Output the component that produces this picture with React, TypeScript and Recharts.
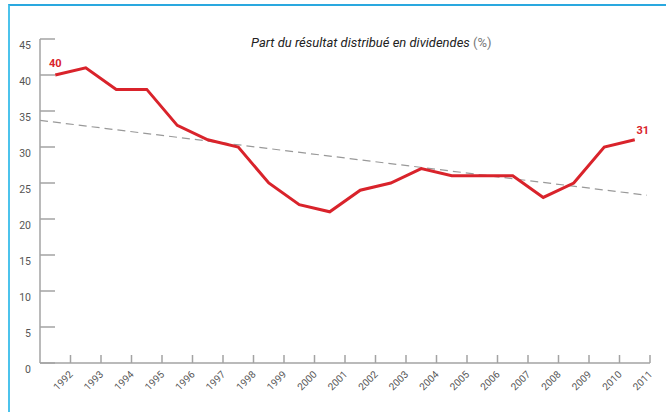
import { LineChart, Line, XAxis, YAxis } from 'recharts'

const years = ['1992', '1993', '1994', '1995', '1996', '1997', '1998', '1999', '2000', '2001', '2002', '2003', '2004', '2005', '2006', '2007', '2008', '2009', '2010', '2011']
const payout = [40, 41, 38, 38, 33, 31, 30, 25, 22, 21, 24, 25, 27, 26, 26, 26, 23, 25, 30, 31]
const trendX = [-0.5, 19.4]
const trendY = [33.7, 23.3]
const yTicks = [0, 5, 10, 15, 20, 25, 30, 35, 40, 45]

const data = payout.map((v, i) => ({ i, v }))
const trend = trendX.map((x, k) => ({ i: x, t: trendY[k] }))
// ticks sit on the boundaries between years
const xTicks = years.map((_, i) => i + 0.5)

const RED = '#d9232b'
const GREY = '#a3a3a3'
const FONT = 'Roboto, "Liberation Sans", sans-serif'

function XTick(props: any) {
  const { x, y, payload } = props
  const label = years[Math.round(payload.value - 0.5)]
  return (
    <g>
      <line x1={x} y1={y - 8} x2={x} y2={y} stroke={GREY} strokeWidth={1.5} />
      <text x={x + 3} y={y + 12} textAnchor="end" fontSize={10} fill="#555" fontFamily={FONT}
            transform={`rotate(-45 ${x + 3} ${y + 12})`}>
        {label}
      </text>
    </g>
  )
}

function YTick(props: any) {
  const { x, y, payload } = props
  return (
    <g>
      <line x1={x} y1={y} x2={x + 15} y2={y} stroke={GREY} strokeWidth={1.5} />
      <text x={x - 9} y={y + 10} textAnchor="end" fontSize={10.5} fill="#555" fontFamily={FONT}>
        {payload.value}
      </text>
    </g>
  )
}

function EndLabel(props: any) {
  const { x, y, index, value } = props
  if (index === 0) {
    return <text x={x} y={y - 8} textAnchor="middle" fontSize={11} fontWeight="bold" fill={RED} fontFamily={FONT}>{value}</text>
  }
  if (index === payout.length - 1) {
    return <text x={x + 8} y={y - 6} textAnchor="middle" fontSize={11} fontWeight="bold" fill={RED} fontFamily={FONT}>{value}</text>
  }
  return null
}

export default function App() {
  return (
    <div style={{ position: 'absolute', left: 0, top: 0, width: 666, height: 412, background: '#fff', overflow: 'hidden' }}>
      <div style={{ position: 'absolute', left: 8, top: 4, width: 660, height: 420,
                    borderTop: '2px solid #2aa8df', borderLeft: '2px solid #4cc3ec' }} />
      <div style={{ position: 'absolute', left: 251, top: 35, fontFamily: FONT, fontSize: 13, color: '#222', whiteSpace: 'nowrap' }}>
        <i>Part du résultat distribué en dividendes</i> <span style={{ color: '#777' }}>(%)</span>
      </div>
      <div style={{ position: 'absolute', left: 0, top: 0 }}>
        <LineChart width={666} height={412} data={data} margin={{ top: 39, right: 16, bottom: 0, left: 0 }}>
          <XAxis dataKey="i" type="number" domain={[-0.5, 19.5]} ticks={xTicks} interval={0}
                 height={49} tickSize={0} tickMargin={0} tickLine={false}
                 axisLine={{ stroke: GREY, strokeWidth: 1.5 }} tick={<XTick />} allowDataOverflow />
          <YAxis type="number" domain={[0, 45]} ticks={yTicks} interval={0}
                 width={40} tickSize={0} tickMargin={0} tickLine={false}
                 axisLine={{ stroke: GREY, strokeWidth: 1.5 }} tick={<YTick />} />
          <Line data={trend} dataKey="t" type="linear" stroke="#999" strokeWidth={1.2}
                strokeDasharray="8 5" dot={false} isAnimationActive={false} />
          <Line dataKey="v" type="linear" stroke={RED} strokeWidth={3} dot={false}
                label={<EndLabel />} isAnimationActive={false} />
        </LineChart>
      </div>
    </div>
  )
}
